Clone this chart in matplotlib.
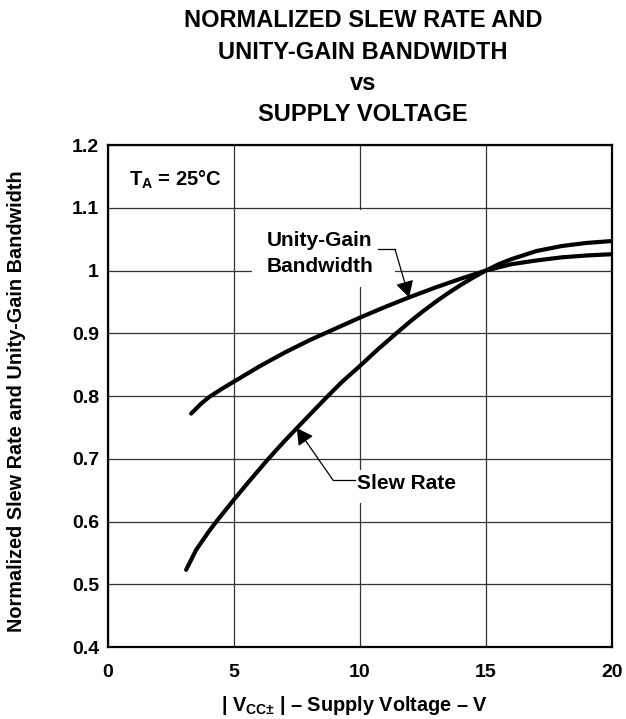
import matplotlib
matplotlib.use('Agg')
import matplotlib.pyplot as plt
from matplotlib.patches import Rectangle

plt.rcParams['font.family'] = ['Liberation Sans', 'DejaVu Sans']
plt.rcParams['font.weight'] = 'bold'
plt.rcParams['mathtext.fontset'] = 'custom'
plt.rcParams['mathtext.rm'] = 'Liberation Sans:bold'
plt.rcParams['mathtext.bf'] = 'Liberation Sans:bold'
plt.rcParams['mathtext.it'] = 'Liberation Sans:bold'

# Slew rate curve (normalized)
sr_volts = [3.1, 3.5, 4.0, 4.3, 5.0, 5.6, 6.3, 7.0, 7.5, 8.0, 8.7, 9.3, 10.0, 10.7,
            11.5, 12.0, 12.5, 13.0, 13.5, 14.0, 14.5, 15.0, 15.5, 16.0, 17.0, 18.0,
            19.0, 20.0]
sr_norm = [0.523, 0.555, 0.584, 0.600, 0.635, 0.664, 0.697, 0.728, 0.749, 0.770,
           0.799, 0.823, 0.848, 0.874, 0.902, 0.919, 0.935, 0.950, 0.964, 0.977,
           0.989, 1.000, 1.010, 1.018, 1.031, 1.039, 1.044, 1.047]

# Unity-gain bandwidth curve (normalized)
ugb_volts = [3.3, 3.7, 4.0, 4.5, 5.0, 6.0, 7.0, 8.0, 9.0, 10.0, 11.0, 12.0, 13.0,
             14.0, 15.0, 16.0, 17.0, 18.0, 19.0, 20.0]
ugb_norm = [0.772, 0.788, 0.798, 0.811, 0.823, 0.847, 0.869, 0.889, 0.907, 0.925,
            0.942, 0.958, 0.973, 0.987, 1.000, 1.010, 1.016, 1.021, 1.024, 1.026]

x_ticks = [0, 5, 10, 15, 20]
x_tick_labels = ['0', '5', '10', '15', '20']
y_ticks = [0.4, 0.5, 0.6, 0.7, 0.8, 0.9, 1.0, 1.1, 1.2]
y_tick_labels = ['0.4', '0.5', '0.6', '0.7', '0.8', '0.9', '1', '1.1', '1.2']

fig = plt.figure(figsize=(6.26, 7.19), dpi=100)
ax = fig.add_axes([0.1725, 0.1001, 0.8051, 0.6982])

ax.set_xlim(0, 20)
ax.set_ylim(0.4, 1.2)
ax.set_xticks(x_ticks)
ax.set_xticklabels(x_tick_labels)
ax.set_yticks(y_ticks)
ax.set_yticklabels(y_tick_labels)
ax.tick_params(axis='both', length=0, labelsize=14)
ax.tick_params(axis='x', pad=12)
ax.tick_params(axis='y', pad=6.5)

ax.grid(True, color='#333333', linewidth=0.9)
ax.set_axisbelow(True)
for sp in ax.spines.values():
    sp.set_linewidth(1.6)
    sp.set_zorder(5)

ax.plot(sr_volts, sr_norm, color='black', linewidth=3, solid_capstyle='round', zorder=4)
ax.plot(ugb_volts, ugb_norm, color='black', linewidth=3, solid_capstyle='round', zorder=4)

# white areas behind the curve labels (they break the grid)
ax.add_patch(Rectangle((5.71, 0.974), 11.39 - 5.71, 1.096 - 0.974,
                       facecolor='white', edgecolor='none', zorder=1))
ax.add_patch(Rectangle((9.8, 0.630), 13.8 - 9.8, 0.682 - 0.630,
                       facecolor='white', edgecolor='none', zorder=1))

ax.text(0.83, 1.144, r'T$_\mathrm{A}$ = 25°C', fontsize=14.5, fontweight='bold',
        ha='left', va='center', zorder=3)

ax.text(8.4, 1.0274, 'Unity-Gain\nBandwidth', fontsize=15, fontweight='bold',
        ha='center', va='center', linespacing=1.45, zorder=3)
ax.plot([10.7, 11.39], [1.034, 1.034], color='black', linewidth=0.9, zorder=3)
ax.annotate('', xy=(11.95, 0.957), xytext=(11.39, 1.034),
            arrowprops=dict(arrowstyle='-|>,head_length=1.0,head_width=0.55',
                            color='black', linewidth=0.9, shrinkA=0, shrinkB=0),
            zorder=6)

ax.text(9.88, 0.6613, 'Slew Rate', fontsize=15, fontweight='bold',
        ha='left', va='center', zorder=3)
ax.plot([8.93, 9.82], [0.666, 0.666], color='black', linewidth=0.9, zorder=3)
ax.annotate('', xy=(7.49, 0.749), xytext=(8.93, 0.666),
            arrowprops=dict(arrowstyle='-|>,head_length=1.0,head_width=0.55',
                            color='black', linewidth=0.9, shrinkA=0, shrinkB=0),
            zorder=6)

fig.text(0.58, 0.906, 'NORMALIZED SLEW RATE AND\nUNITY-GAIN BANDWIDTH\nvs\nSUPPLY VOLTAGE',
         fontsize=17, fontweight='bold', ha='center', va='center', linespacing=1.45)

ax.set_xlabel(r'| V$_\mathrm{CC±}$ | – Supply Voltage – V', fontsize=14.3,
              fontweight='bold')
ax.xaxis.set_label_coords(0.488, -0.1155)
ax.xaxis.label.set_verticalalignment('center')
ax.set_ylabel('Normalized Slew Rate and Unity-Gain Bandwidth', fontsize=14.3,
              fontweight='bold')
ax.yaxis.set_label_coords(-0.1825, 0.49)
ax.yaxis.label.set_verticalalignment('center')

fig.savefig('out.png', dpi=100)
